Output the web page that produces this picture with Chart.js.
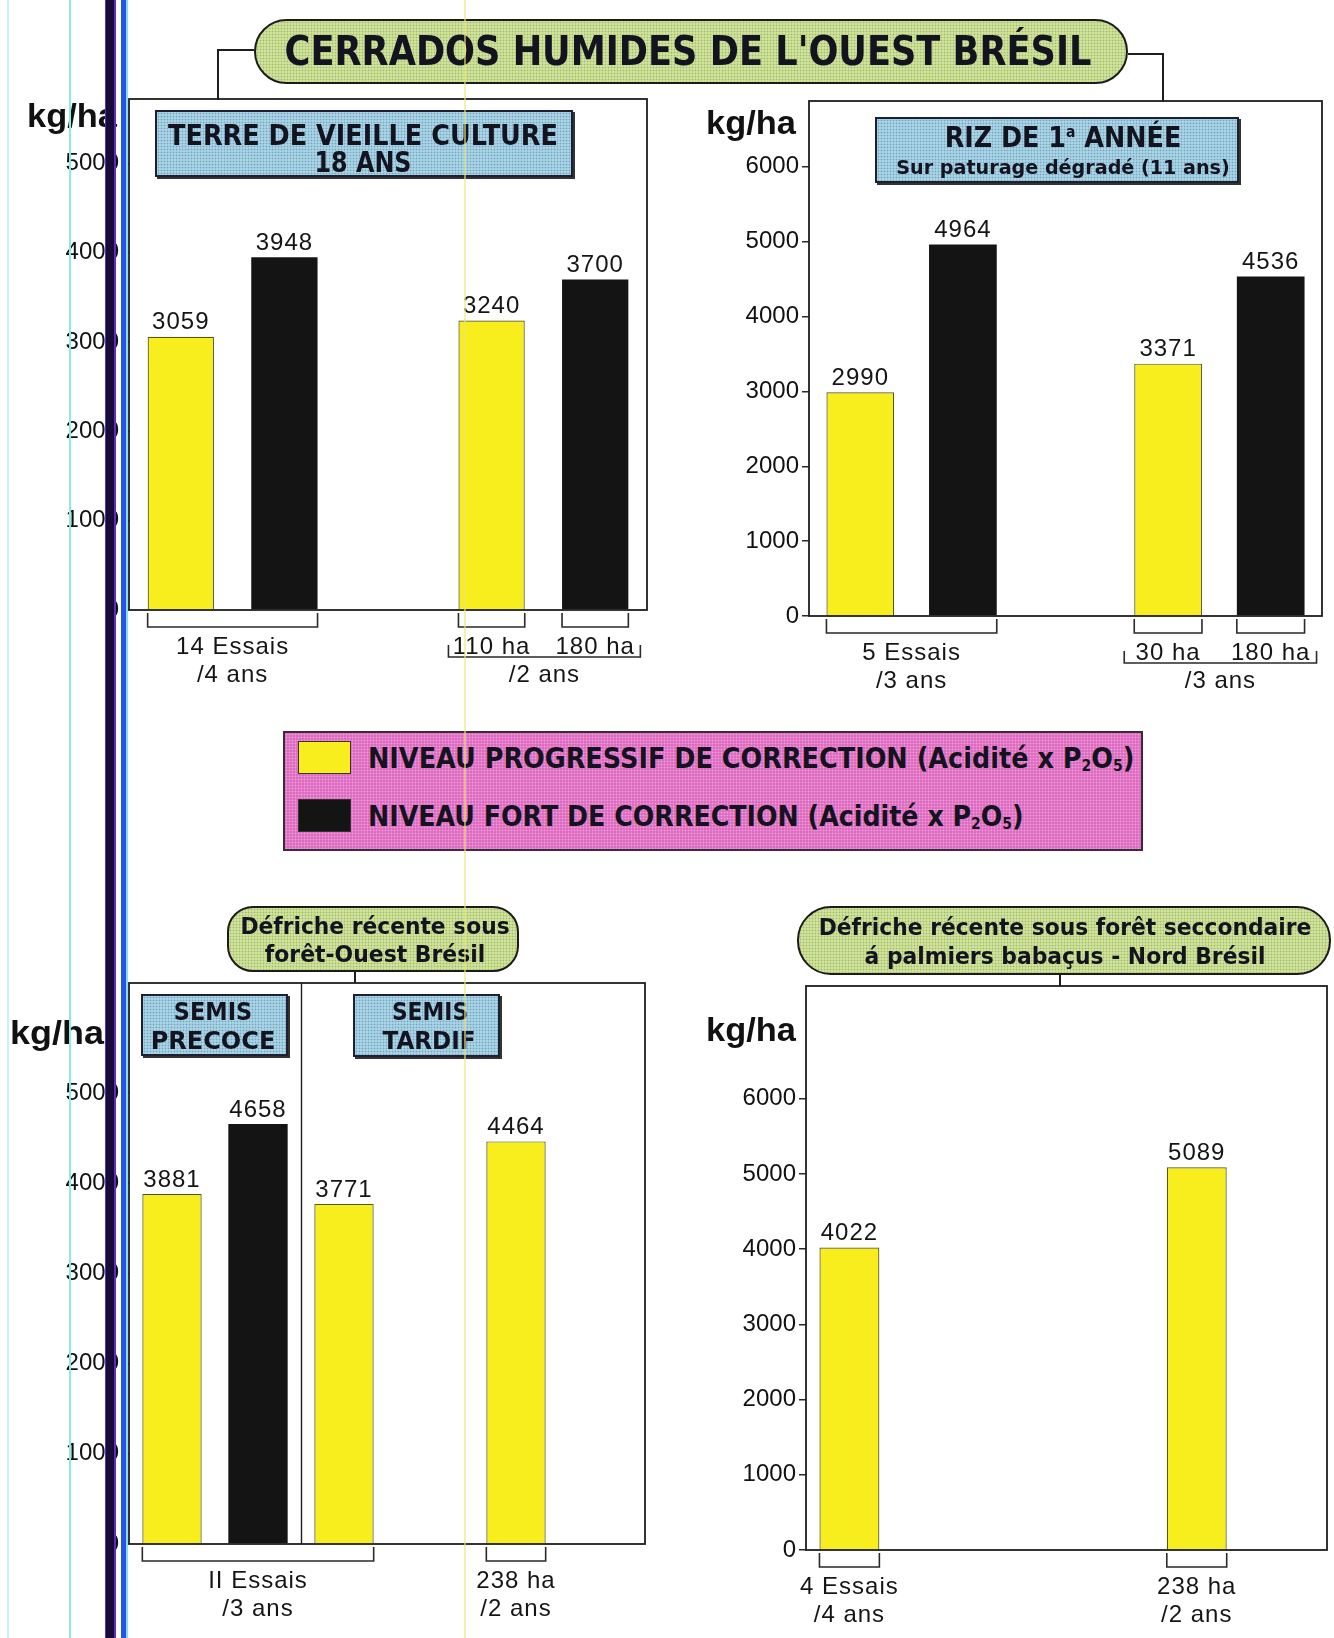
<!DOCTYPE html>
<html lang="fr">
<head>
<meta charset="utf-8">
<title>Cerrados humides de l'Ouest Brésil</title>
<script src="https://cdn.jsdelivr.net/npm/chart.js@4.4.1/dist/chart.umd.min.js"></script>
<style>
  html, body { margin: 0; padding: 0; background: #fff; }
  body { position: relative; width: 1334px; height: 1638px; overflow: hidden;
         font-family: 'Liberation Sans', Arial, sans-serif; color: #151515; }
  .chart { position: absolute; }
  .fit { position: absolute; white-space: nowrap; width: max-content; line-height: 1;
         font-family: 'DejaVu Sans', 'Liberation Sans', sans-serif;
         font-weight: bold; color: #141420; z-index: 3; }
  .fit sub { font-size: 55%; vertical-align: -0.2em; line-height: 0; }
  .oval { position: absolute; box-sizing: border-box; border: 2.5px solid #1b1b1b; border-radius: 36px;
          background-color: #cfe39b;
          background-image: radial-gradient(rgba(110,140,50,.45) 0.8px, transparent 1.1px);
          background-size: 3px 3px; z-index: 2; }
  .box { position: absolute; box-sizing: border-box; border: 2px solid #1c2030;
         background-color: #a9d3e6;
         background-image: radial-gradient(rgba(60,110,140,.45) 0.8px, transparent 1.1px);
         background-size: 3px 3px; box-shadow: 2px 2px 0 #333; z-index: 2; }
  .legend { position: absolute; box-sizing: border-box; left: 283px; top: 731px; width: 860px; height: 120px;
            border: 2.5px solid #3b2b3b; background-color: #dd6cc0;
            background-image: radial-gradient(rgba(250,180,230,.7) 0.8px, transparent 1.1px);
            background-size: 3px 3px; z-index: 2; }
  .swatch { position: absolute; box-sizing: border-box; border: 1.5px solid #333; z-index: 3; }
  .kg { font-family: 'Liberation Sans', Arial, sans-serif; font-size: 34px; color: #111; }
  .line { position: absolute; background: #1e1e1e; z-index: 1; }
  .scan { position: absolute; top: 0; height: 1638px; z-index: 6; }
</style>
</head>
<body>

<!-- titre général -->
<div class="oval" style="left:254px;top:19px;width:874px;height:65px;border-radius:33px"></div>
<div class="fit" style="left:688px;top:51px;font-size:40px" data-w="807">CERRADOS HUMIDES DE L'OUEST BRÉSIL</div>
<div class="line" style="left:217px;top:49px;width:37px;height:2px"></div>
<div class="line" style="left:217px;top:49px;width:2px;height:51px"></div>
<div class="line" style="left:1128px;top:53px;width:36px;height:2px"></div>
<div class="line" style="left:1162px;top:53px;width:2px;height:49px"></div>

<!-- en-têtes des panneaux -->
<div class="box" style="left:155px;top:110px;width:418px;height:67px"></div>
<div class="fit" style="left:363px;top:135px;font-size:29px" data-w="390">TERRE DE VIEILLE CULTURE</div>
<div class="fit" style="left:363px;top:162px;font-size:29px" data-w="97">18 ANS</div>

<div class="box" style="left:875px;top:117px;width:364px;height:66px"></div>
<div class="fit" style="left:1063px;top:138px;font-size:28px" data-w="237">RIZ DE 1<sup style="font-size:55%">a</sup> ANNÉE</div>
<div class="fit" style="left:1063px;top:167px;font-size:20px" data-w="333">Sur paturage dégradé (11 ans)</div>

<div class="oval" style="left:227px;top:906px;width:292px;height:66px;border-radius:26px"></div>
<div class="fit" style="left:375px;top:926px;font-size:23px" data-w="269">Défriche récente sous</div>
<div class="fit" style="left:375px;top:954px;font-size:23px" data-w="220">forêt-Ouest Brésil</div>
<div class="line" style="left:354px;top:971px;width:2px;height:12px"></div>

<div class="box" style="left:141px;top:994px;width:147px;height:62px"></div>
<div class="fit" style="left:213px;top:1011px;font-size:25px" data-w="78">SEMIS</div>
<div class="fit" style="left:213px;top:1040px;font-size:25px" data-w="125">PRECOCE</div>
<div class="box" style="left:353px;top:994px;width:147px;height:63px"></div>
<div class="fit" style="left:430px;top:1011px;font-size:25px" data-w="76">SEMIS</div>
<div class="fit" style="left:429px;top:1040px;font-size:25px" data-w="93">TARDIF</div>

<div class="oval" style="left:797px;top:906px;width:534px;height:69px;border-radius:34px"></div>
<div class="fit" style="left:1065px;top:927px;font-size:23px" data-w="493">Défriche récente sous forêt seccondaire</div>
<div class="fit" style="left:1065px;top:956px;font-size:23px" data-w="401">á palmiers babaçus - Nord Brésil</div>
<div class="line" style="left:1059px;top:974px;width:2px;height:12px"></div>

<div class="fit kg" style="left:72px;top:115px" data-w="90">kg/ha</div>
<div class="fit kg" style="left:751px;top:122px" data-w="90">kg/ha</div>
<div class="fit kg" style="left:57px;top:1032px" data-w="94">kg/ha</div>
<div class="fit kg" style="left:751px;top:1029px" data-w="90">kg/ha</div>

<div class="legend" id="legend"></div>

<!-- traits du scan -->
<div class="scan" style="left:7px;width:1.5px;background:#c4f6f6"></div>
<div class="scan" style="left:69px;width:2px;background:#8ee9ea"></div>
<div class="scan" style="left:105px;width:11px;background:linear-gradient(to right,#5a2fc0 0 1.5px,#170b3c 1.5px 9.5px,#5a2fc0 9.5px)"></div>
<div class="scan" style="left:121px;width:5px;background:#2454e8"></div>
<div class="scan" style="left:126px;width:2px;background:#86dcf2"></div>
<div class="scan" style="left:464px;width:1.5px;background:rgba(236,230,120,.6)"></div>

<script>
// ---------- séries ----------
const seriesNames = ['NIVEAU PROGRESSIF DE CORRECTION', 'NIVEAU FORT DE CORRECTION'];
const seriesSuffix = ' (Acidité x P<sub>2</sub>O<sub>5</sub>)';
const seriesColors = ['#f8ee1e', '#141414'];

// Terre de vieille culture 18 ans
const vieilleCats = ['14 Essais', '14 Essais', '', '110 ha', '180 ha'];
const vieilleProgressif = [3059, null, null, 3240, null];
const vieilleFort = [null, 3948, null, null, 3700];
const vieilleTicks = [0, 1000, 2000, 3000, 4000, 5000];

// Riz de 1re année sur paturage dégradé (11 ans)
const rizCats = ['5 Essais', '5 Essais', '', '30 ha', '180 ha'];
const rizProgressif = [2990, null, null, 3371, null];
const rizFort = [null, 4964, null, null, 4536];
const rizTicks = [0, 1000, 2000, 3000, 4000, 5000, 6000];

// Défriche récente sous forêt - Ouest Brésil (semis précoce / tardif)
const ouestCats = ['Précoce', 'Précoce', 'Tardif', '', '238 ha', ''];
const ouestProgressif = [3881, null, 3771, null, 4464, null];
const ouestFort = [null, 4658, null, null, null, null];
const ouestTicks = [0, 1000, 2000, 3000, 4000, 5000];

// Défriche récente sous forêt secondaire à palmiers babaçus - Nord Brésil
const nordCats = ['4 Essais', '', '', '', '238 ha', ''];
const nordProgressif = [4022, null, null, null, 5089, null];
const nordFort = [null, null, null, null, null, null];
const nordTicks = [0, 1000, 2000, 3000, 4000, 5000, 6000];

// légendes sous les barres : accolade sur [from..to] puis lignes de texte
const vieilleGroups = [
  { from: 0, to: 1, text: ['14 Essais', '/4 ans'] },
  { from: 3, to: 3, text: ['110 ha'] },
  { from: 4, to: 4, text: ['180 ha'] }
];
const vieilleSpans = [{ from: 3, to: 4, text: '/2 ans' }];

const rizGroups = [
  { from: 0, to: 1, text: ['5 Essais', '/3 ans'] },
  { from: 3, to: 3, text: ['30 ha'] },
  { from: 4, to: 4, text: ['180 ha'] }
];
const rizSpans = [{ from: 3, to: 4, text: '/3 ans' }];

const ouestGroups = [
  { from: 0, to: 2, text: ['II Essais', '/3 ans'] },
  { from: 4, to: 4, text: ['238 ha', '/2 ans'] }
];

const nordGroups = [
  { from: 0, to: 0, text: ['4 Essais', '/4 ans'] },
  { from: 4, to: 4, text: ['238 ha', '/2 ans'] }
];

// ---------- cadre, valeurs, accolades ----------
const FONT = "'Liberation Sans', Arial, sans-serif";

const panelPlugin = {
  id: 'panel',
  afterDatasetsDraw(chart, args, opts) {
    const { ctx, chartArea: a, scales: { x } } = chart;
    const cx = i => x.getPixelForValue(i);
    const slot = cx(1) - cx(0);
    const half = slot * opts.barPct / 2;
    ctx.save();

    ctx.strokeStyle = '#1e1e1e';
    ctx.lineWidth = 1.8;
    ctx.strokeRect(a.left, a.top, a.right - a.left, a.bottom - a.top);
    (opts.dividers || []).forEach(i => {
      const px = Math.round(cx(i) + slot / 2) + 0.5;
      ctx.lineWidth = 1.4;
      ctx.beginPath(); ctx.moveTo(px, a.top); ctx.lineTo(px, a.bottom); ctx.stroke();
    });

    ctx.fillStyle = '#151515';
    ctx.font = '24px ' + FONT;
    ctx.textAlign = 'center';
    ctx.textBaseline = 'middle';
    ctx.letterSpacing = '1px';
    chart.data.datasets.forEach((ds, di) => {
      chart.getDatasetMeta(di).data.forEach((bar, i) => {
        if (ds.data[i] == null) return;
        ctx.fillText(String(ds.data[i]), bar.x, bar.y - 14);
      });
    });

    ctx.strokeStyle = '#2a2a2a';
    ctx.lineWidth = 1.6;
    const yb = a.bottom + 17, row0 = a.bottom + 37, row1 = a.bottom + 65;
    (opts.groups || []).forEach(g => {
      const l = cx(g.from) - half, r = cx(g.to) + half;
      ctx.beginPath();
      ctx.moveTo(l, a.bottom + 3); ctx.lineTo(l, yb); ctx.lineTo(r, yb); ctx.lineTo(r, a.bottom + 3);
      ctx.stroke();
      g.text.forEach((t, k) => ctx.fillText(t, (l + r) / 2, k ? row1 : row0));
    });
    (opts.spans || []).forEach(s => {
      const l = cx(s.from) - half - 10, r = cx(s.to) + half + 12, yu = a.bottom + 47;
      ctx.beginPath();
      ctx.moveTo(l, yu - 12); ctx.lineTo(l, yu); ctx.lineTo(r, yu); ctx.lineTo(r, yu - 12);
      ctx.stroke();
      ctx.fillText(s.text, (l + r) / 2, row1);
    });
    ctx.restore();
  }
};
Chart.register(panelPlugin);

// box = zone du tracé {l, t, r, b} dans la page
function panel(box, cats, prog, fort, ticks, yMax, barPct, notes) {
  const axisW = 120, padT = 20, padR = 6, padB = 84;
  const wrap = document.createElement('div');
  wrap.className = 'chart';
  wrap.style.left = (box.l - axisW) + 'px';
  wrap.style.top = (box.t - padT) + 'px';
  const cv = document.createElement('canvas');
  cv.width = axisW + box.r - box.l + padR;
  cv.height = padT + box.b - box.t + padB;
  wrap.appendChild(cv);
  document.body.appendChild(wrap);

  const bar = { grouped: false, barPercentage: barPct, categoryPercentage: 1 };
  new Chart(cv, {
    type: 'bar',
    data: {
      labels: cats,
      datasets: [
        { ...bar, label: seriesNames[0], data: prog, backgroundColor: seriesColors[0],
          borderColor: '#55531c', borderWidth: 1.2 },
        { ...bar, label: seriesNames[1], data: fort, backgroundColor: seriesColors[1], borderWidth: 0 }
      ]
    },
    options: {
      responsive: false,
      animation: false,
      layout: { padding: { left: 0, top: padT, right: padR, bottom: padB } },
      plugins: {
        legend: { display: false },
        tooltip: { enabled: false },
        panel: { barPct, ...notes }
      },
      scales: {
        x: { type: 'category', display: false },
        y: {
          min: 0,
          max: yMax,
          afterBuildTicks: s => { s.ticks = ticks.map(v => ({ value: v })); },
          afterFit: s => { s.width = axisW; },
          border: { display: false },
          grid: { drawOnChartArea: false, drawTicks: true, tickLength: 7, color: '#2a2a2a', lineWidth: 1.5 },
          ticks: { color: '#111', padding: 3, font: { size: 24, family: FONT }, callback: v => String(v) }
        }
      }
    }
  });
}

panel({ l: 129, t: 99, r: 647, b: 610 }, vieilleCats, vieilleProgressif, vieilleFort, vieilleTicks,
      5720, 0.64, { groups: vieilleGroups, spans: vieilleSpans });
panel({ l: 809, t: 101, r: 1322, b: 616 }, rizCats, rizProgressif, rizFort, rizTicks,
      6880, 0.66, { groups: rizGroups, spans: rizSpans });
panel({ l: 129, t: 983, r: 645, b: 1544 }, ouestCats, ouestProgressif, ouestFort, ouestTicks,
      6220, 0.69, { groups: ouestGroups, dividers: [1] });
panel({ l: 806, t: 986, r: 1327, b: 1550 }, nordCats, nordProgressif, nordFort, nordTicks,
      7500, 0.69, { groups: nordGroups });

// ---------- légende commune ----------
const legendWidths = [766, 656];
seriesNames.forEach((name, i) => {
  const sw = document.createElement('div');
  sw.className = 'swatch';
  sw.style.cssText = `left:298px;top:${741 + i * 58}px;width:53px;height:33px;background:${seriesColors[i]}`;
  document.body.appendChild(sw);
  const t = document.createElement('div');
  t.className = 'fit';
  t.dataset.w = legendWidths[i];
  t.dataset.align = 'left';
  t.style.cssText = `left:368px;top:${759 + i * 58}px;font-size:28px`;
  t.innerHTML = name + seriesSuffix;
  document.body.appendChild(t);
});

// ---------- ajustement des textes à la largeur du modèle ----------
document.querySelectorAll('.fit').forEach(el => {
  const k = el.dataset.w ? el.dataset.w / el.offsetWidth : 1;
  if (el.dataset.align === 'left') {
    el.style.transformOrigin = 'left center';
    el.style.transform = `translateY(-50%) scaleX(${k})`;
  } else {
    el.style.transform = `translate(-50%, -50%) scaleX(${k})`;
  }
});
</script>
</body>
</html>
